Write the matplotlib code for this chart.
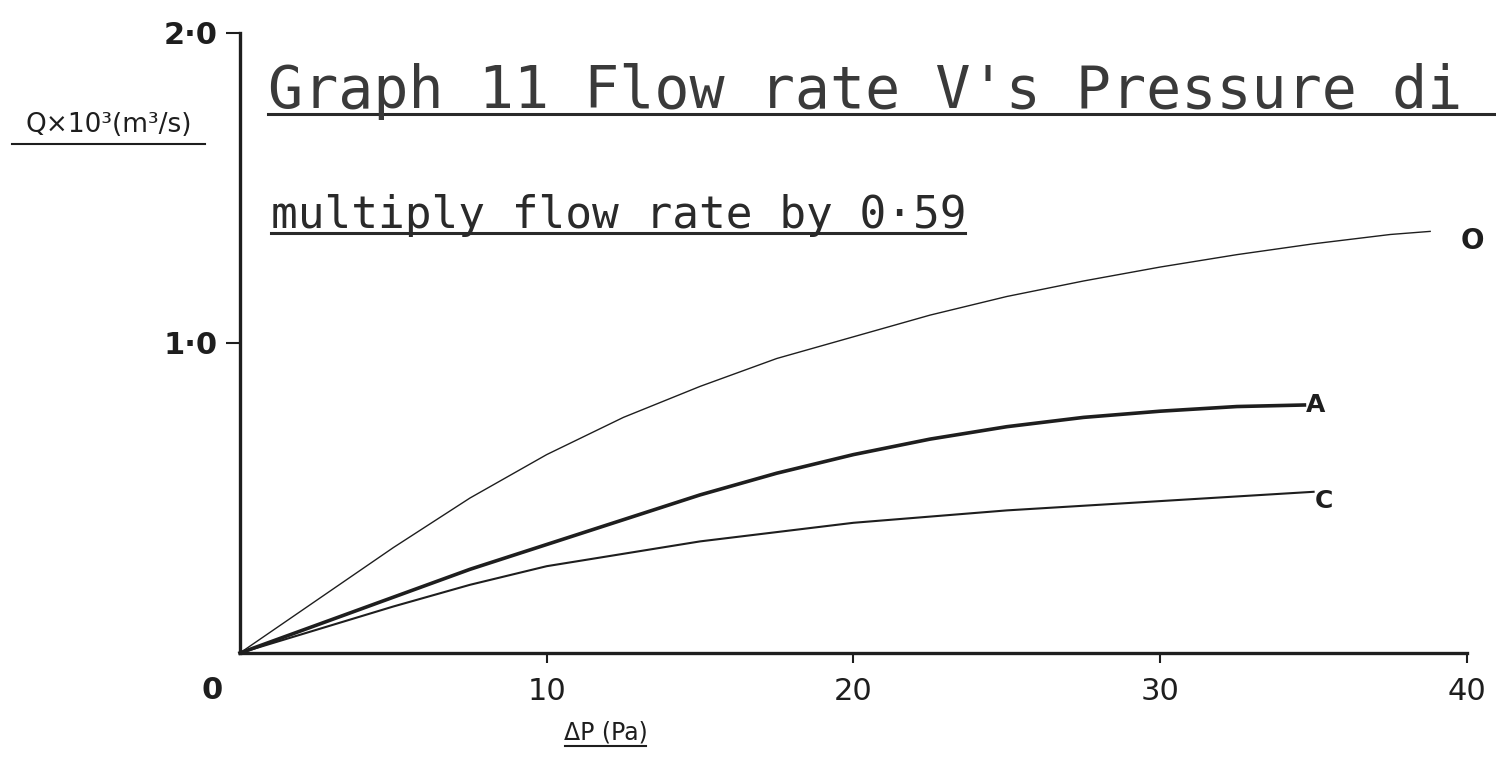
import matplotlib
matplotlib.use('Agg')
import matplotlib.pyplot as plt

# flow rate curves (dP in Pa, Q x 10^3 in m^3/s)
dp_O = [0, 2.5, 5, 7.5, 10, 12.5, 15, 17.5, 20, 22.5, 25, 27.5, 30, 32.5, 35, 37.5, 38.8]
q_O = [0, 0.17, 0.34, 0.50, 0.64, 0.76, 0.86, 0.95, 1.02, 1.09, 1.15, 1.20, 1.245, 1.285, 1.32, 1.35, 1.36]

dp_A = [0, 2.5, 5, 7.5, 10, 12.5, 15, 17.5, 20, 22.5, 25, 27.5, 30, 32.5, 34.7]
q_A = [0, 0.09, 0.18, 0.27, 0.35, 0.43, 0.51, 0.58, 0.64, 0.69, 0.73, 0.76, 0.78, 0.795, 0.80]

dp_C = [0, 2.5, 5, 7.5, 10, 12.5, 15, 17.5, 20, 22.5, 25, 27.5, 30, 32.5, 35]
q_C = [0, 0.075, 0.15, 0.22, 0.28, 0.32, 0.36, 0.39, 0.42, 0.44, 0.46, 0.475, 0.49, 0.505, 0.52]

x_ticks = [10, 20, 30, 40]
x_ticklabels = ['10', '20', '30', '40']
y_ticks = [1.0, 2.0]
y_ticklabels = ['1·0', '2·0']

ink = '#1e1e1e'
stencil = 'DejaVu Sans Mono'

fig = plt.figure(figsize=(14.96, 7.6), dpi=100)
ax = fig.add_axes([0.1604, 0.1408, 0.8202, 0.8158])
ax.set_xlim(0, 40)
ax.set_ylim(0, 2)

ax.plot(dp_O, q_O, color=ink, linewidth=1.0, clip_on=False)
ax.plot(dp_A, q_A, color=ink, linewidth=2.6, clip_on=False)
ax.plot(dp_C, q_C, color=ink, linewidth=1.5, clip_on=False)

# curve labels at the ends
ax.text(dp_O[-1] + 1.0, q_O[-1] - 0.03, 'O', fontsize=20, fontweight='bold', color=ink,
        va='center', ha='left', clip_on=False)
ax.text(dp_A[-1] + 0.05, q_A[-1], 'A', fontsize=18, fontweight='bold', color=ink,
        va='center', ha='left', clip_on=False)
ax.text(dp_C[-1] + 0.05, q_C[-1] - 0.03, 'C', fontsize=18, fontweight='bold', color=ink,
        va='center', ha='left', clip_on=False)

for side in ['top', 'right']:
    ax.spines[side].set_visible(False)
for side in ['left', 'bottom']:
    ax.spines[side].set_linewidth(2.4)
    ax.spines[side].set_color(ink)

ax.set_xticks(x_ticks)
ax.set_xticklabels(x_ticklabels, fontsize=22, color=ink)
ax.set_yticks(y_ticks)
ax.set_yticklabels(y_ticklabels, fontsize=22, fontweight='bold', color=ink)
ax.tick_params(axis='x', direction='out', length=7, width=1.5, color=ink, pad=10)
ax.tick_params(axis='y', direction='out', length=10, width=1.5, color=ink, pad=6)

ax.text(-0.9, -0.12, '0', fontsize=22, fontweight='bold', color=ink,
        ha='center', va='center', clip_on=False)

# axis labels, underlined by hand
fig.text(0.073, 0.818, 'Q×10³(m³/s)', fontsize=19, color=ink, ha='center', va='bottom')
fig.add_artist(plt.Line2D([0.008, 0.137], [0.81, 0.81], color=ink, linewidth=1.5))

fig.text(0.405, 0.02, 'ΔP (Pa)', fontsize=17, color=ink, ha='center', va='bottom')
fig.add_artist(plt.Line2D([0.378, 0.432], [0.018, 0.018], color=ink, linewidth=1.5))

# headings in stencil-like monospace lettering
fig.text(0.179, 0.858, "Graph 11 Flow rate V's Pressure di", fontsize=42, color='#3a3a3a',
         family=stencil, ha='left', va='baseline')
fig.add_artist(plt.Line2D([0.179, 1.0], [0.85, 0.85], color='#2a2a2a', linewidth=2.2))

fig.text(0.181, 0.70, 'multiply flow rate by 0·59', fontsize=32, color='#2a2a2a',
         family=stencil, ha='left', va='baseline')
fig.add_artist(plt.Line2D([0.181, 0.645], [0.694, 0.694], color='#2a2a2a', linewidth=2.2))

plt.savefig('out.png', dpi=100)
